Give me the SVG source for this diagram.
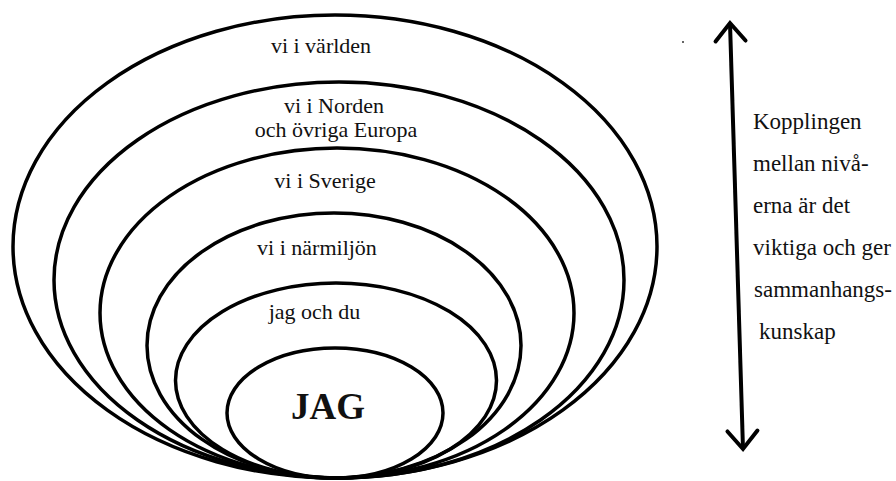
<svg xmlns="http://www.w3.org/2000/svg" width="896" height="481" viewBox="0 0 896 481">
  <defs>
    <style>
      .ring { fill: none; stroke: #000; stroke-width: 3.5; }
      .lbl { font-family: 'Liberation Serif', serif; font-size: 22px; fill: #111; text-anchor: middle; }
      .side { font-family: 'Liberation Serif', serif; font-size: 23px; fill: #111; }
      .big { font-family: 'Liberation Serif', serif; font-size: 37px; font-weight: bold; fill: #111; text-anchor: middle; }
      .conn { fill: none; stroke: #000; stroke-width: 4; }
    </style>
    <marker id="chev" markerUnits="userSpaceOnUse" viewBox="-22 -20 26 40" refX="0" refY="0" markerWidth="26" markerHeight="40" orient="auto-start-reverse" overflow="visible">
      <path d="M -18 -15 L 0 0 L -18 15" fill="none" stroke="#000" stroke-width="4" stroke-linejoin="miter" stroke-linecap="round"/>
    </marker>
  </defs>
  <rect width="896" height="481" fill="#fff"/>

  <g id="varlden">
    <ellipse class="ring" cx="335" cy="246.5" rx="322" ry="231.5"/>
    <text class="lbl" x="321" y="53">vi i världen</text>
  </g>
  <g id="norden">
    <ellipse class="ring" cx="339" cy="280" rx="285" ry="198"/>
    <text class="lbl" x="334" y="113">vi i Norden</text>
    <text class="lbl" x="336" y="137">och övriga Europa</text>
  </g>
  <g id="sverige">
    <ellipse class="ring" cx="337" cy="313" rx="237" ry="165"/>
    <text class="lbl" x="325" y="188">vi i Sverige</text>
  </g>
  <g id="narmiljon">
    <ellipse class="ring" cx="334" cy="345.5" rx="187" ry="132.5"/>
    <text class="lbl" x="317" y="255">vi i närmiljön</text>
  </g>
  <g id="jagochdu">
    <ellipse class="ring" cx="336" cy="380.5" rx="160.5" ry="97.5"/>
    <text class="lbl" x="314.5" y="319">jag och du</text>
  </g>
  <g id="jag">
    <ellipse class="ring" cx="335" cy="413" rx="108" ry="65"/>
    <text class="big" x="328" y="419">JAG</text>
  </g>

  <g id="connectors">
    <line class="conn" x1="730" y1="23" x2="743" y2="449" marker-start="url(#chev)" marker-end="url(#chev)"/>
  </g>

  <g id="caption">
    <text class="side" x="753" y="129">Kopplingen</text>
    <text class="side" x="753" y="171">mellan nivå-</text>
    <text class="side" x="753" y="213">erna är det</text>
    <text class="side" x="753" y="255">viktiga och ger</text>
    <text class="side" x="754" y="297">sammanhangs-</text>
    <text class="side" x="759" y="339">kunskap</text>
  </g>
  <circle cx="683" cy="42" r="1" fill="#333"/>
</svg>
